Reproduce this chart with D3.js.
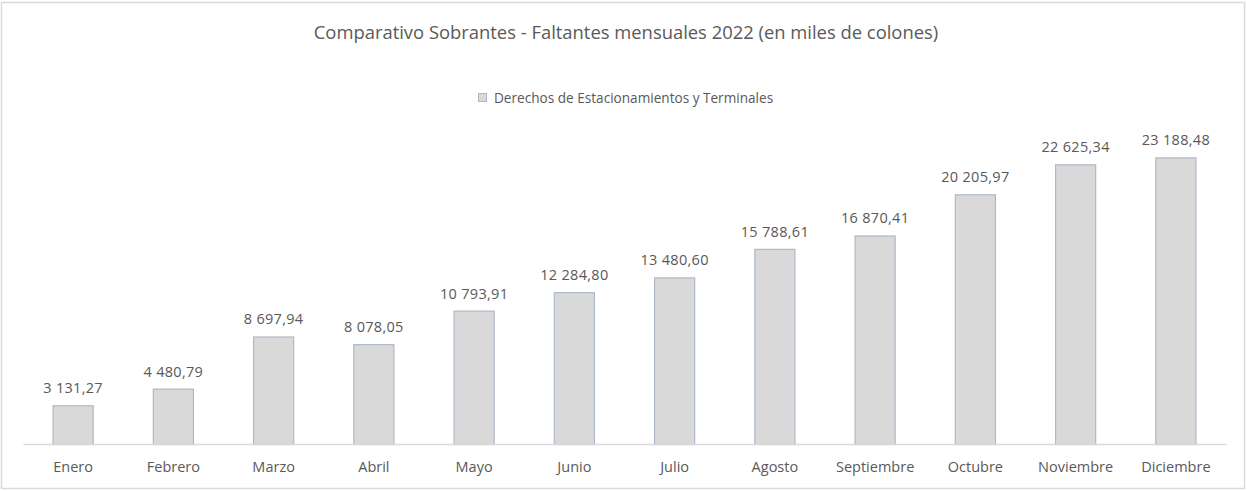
<!DOCTYPE html>
<html>
<head>
<meta charset="utf-8">
<script src="https://cdn.jsdelivr.net/npm/d3@7"></script>
<style>
  body { margin: 0; background: #fff; }
  text { font-family: "Open Sans", "Noto Sans", sans-serif; fill: #595959; }
</style>
</head>
<body>
<script>
var months = ["Enero","Febrero","Marzo","Abril","Mayo","Junio","Julio","Agosto","Septiembre","Octubre","Noviembre","Diciembre"];
var values = [3131.27, 4480.79, 8697.94, 8078.05, 10793.91, 12284.80, 13480.60, 15788.61, 16870.41, 20205.97, 22625.34, 23188.48];
var seriesName = "Derechos de Estacionamientos y Terminales";
var title = "Comparativo Sobrantes - Faltantes mensuales 2022 (en miles de colones)";

var width = 1247, height = 491;
var margin = {top: 135, right: 21, bottom: 47, left: 23};

var data = months.map(function(m, i){ return {month: m, value: values[i]}; });

var svg = d3.select("body").append("svg")
  .attr("width", width)
  .attr("height", height);

// outer frame
svg.append("rect")
  .attr("x", 1.5).attr("y", 2.5)
  .attr("width", width - 4).attr("height", height - 5)
  .attr("fill", "#fff")
  .attr("stroke", "#d9d9d9")
  .attr("stroke-width", 1.5);

var x = d3.scaleBand()
  .domain(months)
  .range([margin.left, width - margin.right])
  .paddingInner(0.59)
  .paddingOuter(0.295);

var y = d3.scaleLinear()
  .domain([0, 25000])
  .range([height - margin.bottom, margin.top]);

function fmt(v){
  var s = v.toFixed(2).split(".");
  var intPart = s[0].replace(/\B(?=(\d{3})+(?!\d))/g, " ");
  return intPart + "," + s[1];
}

var chartGroup = svg.append("g");

chartGroup.selectAll("rect.bar")
  .data(data)
  .enter().append("rect")
  .attr("class", "bar")
  .attr("x", function(d){ return x(d.month) + 0.5; })
  .attr("y", function(d){ return y(d.value) + 0.5; })
  .attr("width", x.bandwidth() - 1)
  .attr("height", function(d){ return y(0) - y(d.value); })
  .attr("fill", "#d9d9d9")
  .attr("stroke", "#adb9ca")
  .attr("stroke-width", 1.2);

// value labels
chartGroup.selectAll("text.val")
  .data(data)
  .enter().append("text")
  .attr("class", "val")
  .attr("x", function(d){ return x(d.month) + x.bandwidth() / 2; })
  .attr("y", function(d){ return y(d.value) - 12; })
  .attr("text-anchor", "middle")
  .style("font-size", "14.5px")
  .style("letter-spacing", "0.3px")
  .text(function(d){ return fmt(d.value); });

// x axis
var xAxis = d3.axisBottom(x).tickSize(0).tickPadding(18);
var gx = chartGroup.append("g")
  .attr("transform", "translate(0," + y(0) + ")")
  .call(xAxis);
gx.select(".domain").attr("stroke", "#d9d9d9").attr("stroke-width", 1.5);
gx.selectAll(".tick text")
  .style("font-size", "14.5px")
  .style("font-family", "\"Open Sans\", sans-serif")
  .attr("fill", "#595959");

// title
svg.append("text")
  .attr("x", 626)
  .attr("y", 39)
  .attr("text-anchor", "middle")
  .style("font-size", "18.4px")
  .text(title);

// legend
var legend = svg.append("g").attr("transform", "translate(478,93)");
legend.append("rect")
  .attr("x", 0.5).attr("y", 0.5)
  .attr("width", 8).attr("height", 8)
  .attr("fill", "#d9d9d9")
  .attr("stroke", "#adb9ca");
legend.append("text")
  .attr("x", 16)
  .attr("y", 10)
  .style("font-size", "13.6px")
  .text(seriesName);
</script>
</body>
</html>
